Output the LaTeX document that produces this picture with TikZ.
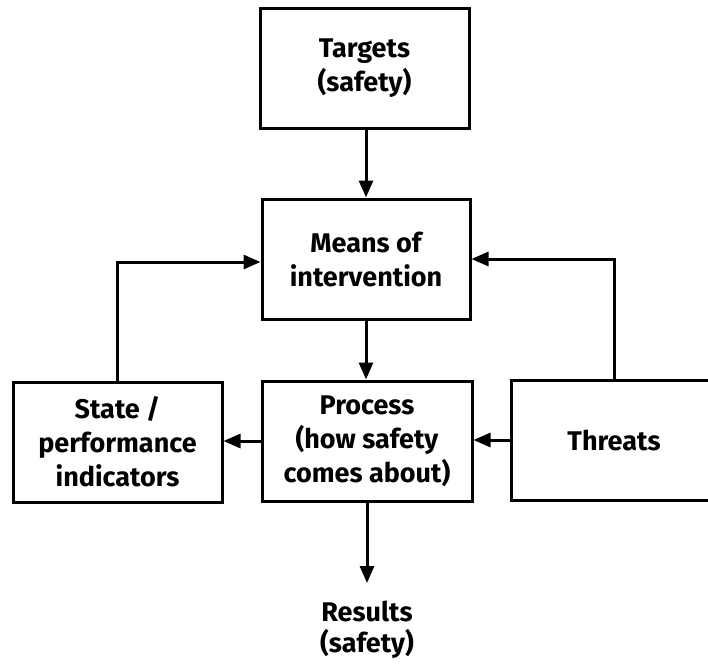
\documentclass[tikz,border=0pt]{standalone}
\usepackage{fontspec}
\setmainfont{Fira Sans}
\usetikzlibrary{arrows.meta}
\begin{document}
\begin{tikzpicture}[x=1pt,y=-1pt,
  box/.style={draw,line width=3pt,minimum height=120pt,align=center,inner sep=0pt,
    font=\fontsize{27}{34}\selectfont\bfseries},
  label/.style={align=center,inner sep=0pt,font=\fontsize{27}{31}\selectfont\bfseries},
  link/.style={line width=3pt,line join=miter,-{Triangle[length=17pt,width=14pt]}}]
\clip (0,0) rectangle (708,667);
\fill[white] (0,0) rectangle (708,667);

\node[box,minimum width=209pt] (targets) at (364.5,68) {Targets\\(safety)};
\node[box,minimum width=208pt] (means) at (366,259) {Means of\\intervention};
\node[box,minimum width=209pt] (state) at (117.5,442) {State /\\performance\\indicators};
\node[box,minimum width=210pt] (process) at (367,441) {Process\\(how safety\\comes about)};
\node[box,minimum width=206pt] (threats) at (614,440) {Threats};
\node[label,anchor=north] (results) at (367,601) {Results\\(safety)};

\draw[link] (targets.south -| means.north) -- (means.north);
\draw[link] (state.north) |- ([yshift=-3pt]means.west);
\draw[link] (threats.north) |- (means.east);
\draw[link] (means.south) -- (means.south |- process.north);
\draw[link] (process.west) -- (process.west -| state.east);
\draw[link] (threats.west) -- (threats.west -| process.east);
\draw[link] (process.south) -- ([yshift=18pt]results.north -| process.south);
\end{tikzpicture}
\end{document}
